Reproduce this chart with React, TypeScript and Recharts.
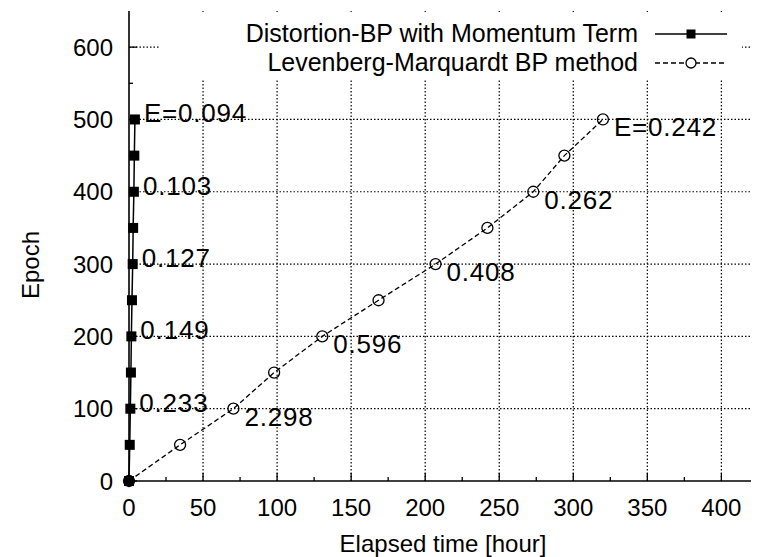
import React from 'react';
import {
  LineChart,
  Line,
  XAxis,
  YAxis,
  ReferenceLine,
  Legend,
  LabelList,
  Label,
} from 'recharts';

// epoch checkpoints shared by both training runs
const epochs = [0, 50, 100, 150, 200, 250, 300, 350, 400, 450, 500];

// elapsed hours at each checkpoint
const distortionHours = [0, 0.5, 0.9, 1.3, 1.6, 2.0, 2.5, 2.8, 3.3, 3.6, 4.0];
const lmHours = [0, 34.5, 70.5, 98, 130.5, 168.5, 207, 242, 273, 294, 320];

// error annotations (only every other checkpoint is annotated)
const distortionErrors = [null, null, '0.233', null, '0.149', null, '0.127', null, '0.103', null, 'E=0.094'];
const lmErrors = [null, null, '2.298', null, '0.596', null, '0.408', null, '0.262', null, 'E=0.242'];

const xTicks = [0, 25, 50, 75, 100, 125, 150, 175, 200, 225, 250, 275, 300, 325, 350, 375, 400];
const yTicks = [0, 50, 100, 150, 200, 250, 300, 350, 400, 450, 500, 550, 600];
const xGrid = [50, 100, 150, 200, 250, 300, 350, 400];
const yGrid = [100, 200, 300, 400, 500, 600];

const DISTORTION = 'Distortion-BP with Momentum Term';
const LM = 'Levenberg-Marquardt BP method';

const distortionData = epochs.map((e, i) => ({ hours: distortionHours[i], epoch: e, err: distortionErrors[i] }));
const lmData = epochs.map((e, i) => ({ hours: lmHours[i], epoch: e, err: lmErrors[i] }));

const FONT = '"Liberation Sans", Arial, Helvetica, sans-serif';
const INK = '#000';

const isMajorX = (v: number) => v % 50 === 0;
const isMajorY = (v: number) => v % 100 === 0;

const BottomTick = ({ x, y, payload }: any) => {
  const major = isMajorX(payload.value);
  return (
    <g>
      <line x1={x} x2={x} y1={y} y2={y - (major ? 8 : 4)} stroke={INK} strokeWidth={1.3} />
      {major && (
        <text x={x} y={y + 26} textAnchor="middle" dominantBaseline="central" fontSize={24} fontFamily={FONT} fill={INK}>
          {payload.value}
        </text>
      )}
    </g>
  );
};

const TopTick = ({ x, y, payload }: any) => (
  <line x1={x} x2={x} y1={y} y2={y + (isMajorX(payload.value) ? 8 : 4)} stroke={INK} strokeWidth={1.3} />
);

const LeftTick = ({ x, y, payload }: any) => {
  const major = isMajorY(payload.value);
  return (
    <g>
      <line x1={x} x2={x + (major ? 8 : 4)} y1={y} y2={y} stroke={INK} strokeWidth={1.3} />
      {major && (
        <text x={x - 16} y={y} textAnchor="end" dominantBaseline="central" fontSize={24} fontFamily={FONT} fill={INK}>
          {payload.value}
        </text>
      )}
    </g>
  );
};

const RightTick = ({ x, y, payload }: any) => (
  <line x1={x} x2={x - (isMajorY(payload.value) ? 8 : 4)} y1={y} y2={y} stroke={INK} strokeWidth={1.3} />
);

const SquareDot = ({ cx, cy, index }: any) => (
  <rect key={`sq-${index}`} x={cx - 5} y={cy - 5} width={10} height={10} fill={INK} />
);

const CircleDot = ({ cx, cy, index }: any) => (
  <circle key={`ci-${index}`} cx={cx} cy={cy} r={5.5} fill="none" stroke={INK} strokeWidth={1.3} />
);

const errorLabel = (dx: number, dy: number) => (props: any) => {
  const { x, y, value, index } = props;
  if (!value) return null;
  return (
    <text
      key={`lbl-${index}`}
      x={x + dx}
      y={y + dy}
      dominantBaseline="central"
      fontSize={26}
      letterSpacing={0.8}
      fontFamily={FONT}
      fill={INK}
    >
      {value}
    </text>
  );
};

const legendSample: Record<string, React.ReactNode> = {
  [DISTORTION]: (
    <>
      <line x1={0} x2={72} y1={10} y2={10} stroke={INK} strokeWidth={1.5} />
      <rect x={31.5} y={5.5} width={9} height={9} fill={INK} />
    </>
  ),
  [LM]: (
    <>
      <line x1={0} x2={72} y1={10} y2={10} stroke={INK} strokeWidth={1.3} strokeDasharray="5 3" />
      <circle cx={36} cy={10} r={5} fill="#fff" stroke={INK} strokeWidth={1.3} />
    </>
  ),
};

const KeyBox = ({ payload }: any) => (
  <div style={{ background: '#fff', padding: '7px 15px 3px 0', fontFamily: FONT }}>
    {[DISTORTION, LM]
      .filter((name) => (payload || []).some((p: any) => p.value === name))
      .map((name) => (
        <div key={name} style={{ display: 'flex', alignItems: 'center', justifyContent: 'flex-end', height: 29 }}>
          <span style={{ fontSize: 25, color: INK, whiteSpace: 'nowrap' }}>{name}</span>
          <svg width={72} height={20} style={{ marginLeft: 17 }}>
            {legendSample[name]}
          </svg>
        </div>
      ))}
  </div>
);

export default function App() {
  return (
    <div style={{ width: 757, height: 557, background: '#fff' }}>
      <style>{'body{margin:0}'}</style>
      <LineChart width={757} height={557} margin={{ top: 11, right: 6, bottom: 0, left: 0 }}>
        <XAxis
          xAxisId={0}
          type="number"
          dataKey="hours"
          domain={[0, 420]}
          ticks={xTicks}
          interval={0}
          tickSize={0}
          tickMargin={0}
          tick={BottomTick}
          axisLine={{ stroke: INK, strokeWidth: 1.6 }}
          height={76}
        >
          <Label
            content={({ viewBox }: any) => (
              <text
                x={viewBox.x + viewBox.width / 2 + 3}
                y={viewBox.y + 62}
                textAnchor="middle"
                dominantBaseline="central"
                fontSize={24}
                fontFamily={FONT}
                fill={INK}
              >
                Elapsed time [hour]
              </text>
            )}
          />
        </XAxis>
        <XAxis
          xAxisId="top"
          orientation="top"
          type="number"
          domain={[0, 420]}
          ticks={xTicks}
          interval={0}
          tickSize={0}
          tickMargin={0}
          tick={TopTick}
          axisLine={{ stroke: INK, strokeWidth: 1.6 }}
          height={0}
        />
        <YAxis
          yAxisId={0}
          type="number"
          dataKey="epoch"
          domain={[0, 650]}
          ticks={yTicks}
          interval={0}
          tickSize={0}
          tickMargin={0}
          tick={LeftTick}
          axisLine={{ stroke: INK, strokeWidth: 1.6 }}
          width={129}
        >
          <Label
            content={({ viewBox }: any) => {
              const cx = viewBox.x + 30;
              const cy = viewBox.y + 254;
              return (
                <text
                  x={cx}
                  y={cy}
                  transform={`rotate(-90 ${cx} ${cy})`}
                  textAnchor="middle"
                  dominantBaseline="central"
                  fontSize={24}
                  fontFamily={FONT}
                  fill={INK}
                >
                  Epoch
                </text>
              );
            }}
          />
        </YAxis>
        <YAxis
          yAxisId="right"
          orientation="right"
          type="number"
          domain={[0, 650]}
          ticks={yTicks}
          interval={0}
          tickSize={0}
          tickMargin={0}
          tick={RightTick}
          axisLine={{ stroke: INK, strokeWidth: 1.6 }}
          width={0}
        />

        {xGrid.map((v) => (
          <ReferenceLine key={`gx-${v}`} x={v} stroke={INK} strokeWidth={1.2} strokeDasharray="1.5 2" />
        ))}
        {yGrid.map((v) => (
          <ReferenceLine key={`gy-${v}`} y={v} stroke={INK} strokeWidth={1.2} strokeDasharray="1.5 2" />
        ))}

        <Legend layout="vertical" align="center" verticalAlign="middle" content={KeyBox} wrapperStyle={{ left: 160, top: 12, width: 582 }} />

        <Line
          name={LM}
          data={lmData}
          dataKey="epoch"
          type="linear"
          stroke={INK}
          strokeWidth={1.3}
          strokeDasharray="5 3"
          dot={CircleDot}
          activeDot={false}
          isAnimationActive={false}
        >
          <LabelList dataKey="err" content={errorLabel(11, 8)} />
        </Line>
        <Line
          name={DISTORTION}
          data={distortionData}
          dataKey="epoch"
          type="linear"
          stroke={INK}
          strokeWidth={1.5}
          dot={SquareDot}
          activeDot={false}
          isAnimationActive={false}
        >
          <LabelList dataKey="err" content={errorLabel(9, -6)} />
        </Line>
      </LineChart>
    </div>
  );
}
